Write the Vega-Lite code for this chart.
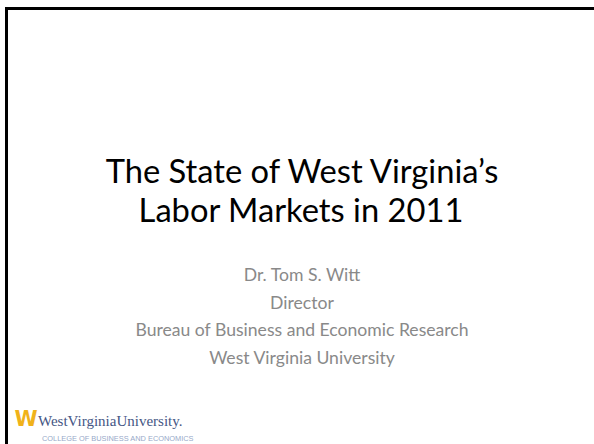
{
  "$schema": "https://vega.github.io/schema/vega-lite/v6.json",
  "width": 594,
  "height": 444,
  "padding": 0,
  "autosize": {"type": "none"},
  "background": "white",
  "config": {"view": {"stroke": null}},
  "datasets": {
    "frame": [
      {"x": 5, "y": 8.5, "x2": 594, "y2": 8.5},
      {"x": 6.5, "y": 7, "x2": 6.5, "y2": 444}
    ],
    "title": [
      {"text": "The State of West Virginia’s", "x": 302, "y": 183},
      {"text": "Labor Markets in 2011", "x": 301, "y": 222}
    ],
    "subtitle": [
      {"text": "Dr. Tom S. Witt", "x": 302, "y": 281},
      {"text": "Director", "x": 302, "y": 309},
      {"text": "Bureau of Business and Economic Research", "x": 302, "y": 336},
      {"text": "West Virginia University", "x": 302, "y": 364}
    ],
    "logoMark": [{"text": "W", "x": 26, "y": 426}],
    "logoName": [{"text": "WestVirginiaUniversity.", "x": 38, "y": 426}],
    "logoSub": [{"text": "COLLEGE OF BUSINESS AND ECONOMICS", "x": 42, "y": 441}]
  },
  "encoding": {
    "x": {"field": "x", "type": "quantitative", "scale": {"domain": [0, 594]}, "axis": null},
    "y": {"field": "y", "type": "quantitative", "scale": {"domain": [444, 0]}, "axis": null}
  },
  "layer": [
    {
      "data": {"name": "frame"},
      "mark": {"type": "rule", "color": "black", "strokeWidth": 3},
      "encoding": {
        "x2": {"field": "x2"},
        "y2": {"field": "y2"}
      }
    },
    {
      "data": {"name": "title"},
      "mark": {"type": "text", "font": "Lato", "fontSize": 32.7, "color": "black", "align": "center", "baseline": "alphabetic"},
      "encoding": {"text": {"field": "text"}}
    },
    {
      "data": {"name": "subtitle"},
      "mark": {"type": "text", "font": "Lato", "fontSize": 17.6, "color": "#898989", "align": "center", "baseline": "alphabetic"},
      "encoding": {"text": {"field": "text"}}
    },
    {
      "data": {"name": "logoMark"},
      "mark": {"type": "text", "font": "DejaVu Sans", "fontSize": 21, "fontWeight": "bold", "color": "#f0b21a", "align": "center", "baseline": "alphabetic"},
      "encoding": {"text": {"field": "text"}}
    },
    {
      "data": {"name": "logoName"},
      "mark": {"type": "text", "font": "Liberation Serif", "fontSize": 15, "color": "#455684", "align": "left", "baseline": "alphabetic", "letterSpacing": -1.2},
      "encoding": {"text": {"field": "text"}}
    },
    {
      "data": {"name": "logoSub"},
      "mark": {"type": "text", "font": "Liberation Sans", "fontSize": 7.4, "color": "#97a9c9", "align": "left", "baseline": "alphabetic"},
      "encoding": {"text": {"field": "text"}}
    }
  ]
}
